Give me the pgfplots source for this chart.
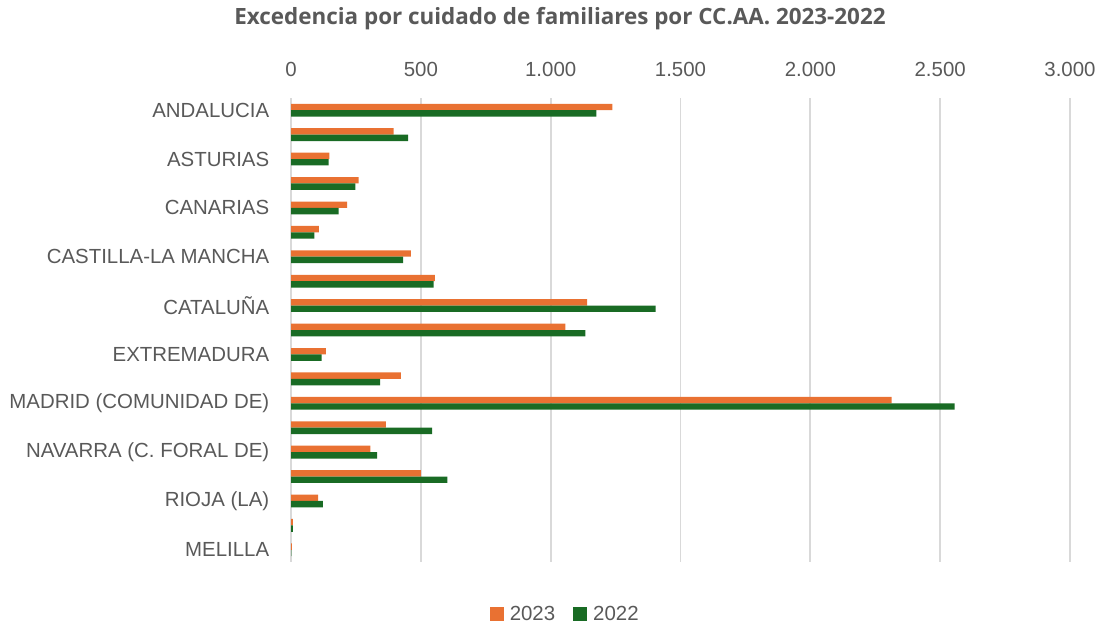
\documentclass[border=0pt]{standalone}
\usepackage{pgfplots}
\pgfplotsset{compat=1.18}
\usepackage{fontspec}
\setmainfont{Liberation Sans}
\newfontfamily\titlefont{Open Sans}
\definecolor{c23}{HTML}{E97132}
\definecolor{c22}{HTML}{196B24}
\definecolor{txt}{HTML}{595959}
\definecolor{grd}{HTML}{D9D9D9}
\begin{document}
\begin{tikzpicture}
\path (0,0) rectangle (1102bp,-628bp);
\node[font=\titlefont\bfseries\fontsize{22.5}{26}\selectfont, text=txt] at (560bp,-19bp) {Excedencia por cuidado de familiares por CC.AA. 2023-2022};
\begin{axis}[
  at={(291bp,-562bp)}, anchor=south west,
  scale only axis, width=779bp, height=464bp,
  xbar, bar width=6.4bp,
  xmin=0, xmax=3000,
  ymin=-0.5, ymax=18.5, y dir=reverse,
  xtick={0,500,...,3000},
  xticklabel pos=top,
  xticklabels={0,500,1.000,1.500,2.000,2.500,3.000},
  ytick={0,2,...,18},
  yticklabels={ANDALUCIA,ASTURIAS\ ,CANARIAS,CASTILLA-LA MANCHA,CATALUÑA,EXTREMADURA,MADRID (COMUNIDAD DE),NAVARRA (C. FORAL DE),RIOJA (LA),MELILLA},
  axis line style={draw=none},
  tick style={draw=none},
  xmajorgrids, major grid style={draw=grd, line width=1.8bp},
  ticklabel style={font=\fontsize{20.5}{24}\selectfont, text=txt},
  yticklabel style={xshift=-14bp},
  xticklabel style={yshift=18bp},
  /pgf/number format/assume math mode=true,
  clip=false,
  legend columns=2,
  legend style={at={(axis description cs:0.352,-0.112)}, anchor=center, draw=none, fill=none,
    font=\fontsize{20.5}{24}\selectfont, text=txt,
    /tikz/every odd column/.style={column sep=4bp},
    /tikz/every even column/.style={column sep=16bp}},
  legend image code/.code={\fill[#1] (0bp,-7bp) rectangle (14bp,7bp);},
]
\addplot[fill=c23, draw=none, bar shift=3.2bp] coordinates {
(1238,0) (395,1) (148,2) (260,3) (216,4) (107,5) (462,6) (554,7) (1140,8) (1057,9)
(134,10) (423,11) (2313,12) (365,13) (306,14) (500,15) (104,16) (7,17) (3,18)};
\addlegendentry{2023}
\addplot[fill=c22, draw=none, bar shift=-3.2bp] coordinates {
(1176,0) (451,1) (145,2) (248,3) (183,4) (90,5) (432,6) (549,7) (1404,8) (1134,9)
(118,10) (343,11) (2556,12) (543,13) (332,14) (602,15) (123,16) (7,17) (1,18)};
\addlegendentry{2022}
\end{axis}
\end{tikzpicture}
\end{document}
